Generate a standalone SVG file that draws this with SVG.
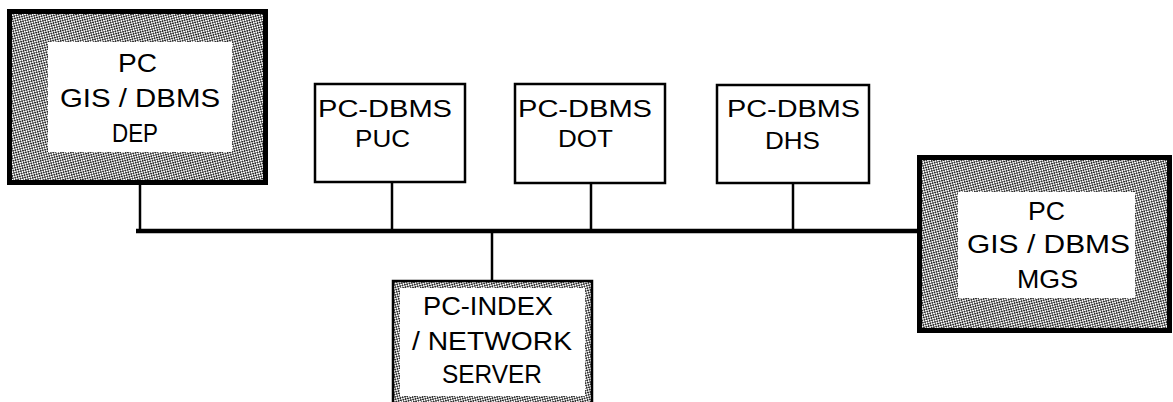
<svg xmlns="http://www.w3.org/2000/svg" width="1173" height="402" viewBox="0 0 1173 402">
<style>
text{font-family:"Liberation Sans",Arial,Helvetica,sans-serif;fill:#000;}
.t{font-size:25px;}
.s{font-size:24px;}
.box{fill:#fff;stroke:#000;stroke-width:2.5;}
.heavy{fill:url(#dither);stroke:#000;stroke-width:5;}
.srv{fill:url(#dither);stroke:#000;stroke-width:2.5;}
.inner{fill:#fff;stroke:none;}
.wire{stroke:#000;stroke-width:2.5;fill:none;}
.bus{stroke:#000;stroke-width:4.5;fill:none;}
</style>
<defs>
<pattern id="dither" width="3.4" height="3.4" patternUnits="userSpaceOnUse" patternTransform="rotate(30)">
<rect width="3.4" height="3.4" fill="#fff"/>
<circle cx="0" cy="0" r="0.95" fill="#000"/>
<circle cx="3.4" cy="0" r="0.95" fill="#000"/>
<circle cx="0" cy="3.4" r="0.95" fill="#000"/>
<circle cx="3.4" cy="3.4" r="0.95" fill="#000"/>
<circle cx="1.7" cy="1.7" r="0.95" fill="#000"/>
</pattern>
</defs>
<rect width="1173" height="402" fill="#fff"/>
<g id="connectors">
<line class="bus" x1="136" y1="231" x2="919" y2="231"/>
<line class="wire" x1="140" y1="185" x2="140" y2="231"/>
<line class="wire" x1="392" y1="182" x2="392" y2="231"/>
<line class="wire" x1="591" y1="183" x2="591" y2="231"/>
<line class="wire" x1="793" y1="183" x2="793" y2="231"/>
<line class="wire" x1="492" y1="231" x2="492" y2="281"/>
</g>
<g id="node-dep">
<rect class="heavy" x="9.5" y="11.5" width="256" height="171"/>
<rect class="inner" x="48" y="42" width="184" height="110"/>
<text class="t" x="118" y="72" textLength="39" lengthAdjust="spacingAndGlyphs">PC</text>
<text class="t" x="60" y="107" textLength="160" lengthAdjust="spacingAndGlyphs">GIS / DBMS</text>
<text class="t" x="112" y="142" textLength="46" lengthAdjust="spacingAndGlyphs">DEP</text>
</g>
<g id="node-puc">
<rect class="box" x="315" y="84" width="150" height="98"/>
<text class="s" x="318" y="117" textLength="134" lengthAdjust="spacingAndGlyphs">PC-DBMS</text>
<text class="s" x="355" y="147" textLength="55" lengthAdjust="spacingAndGlyphs">PUC</text>
</g>
<g id="node-dot">
<rect class="box" x="515" y="84" width="150" height="99"/>
<text class="s" x="518" y="117" textLength="134" lengthAdjust="spacingAndGlyphs">PC-DBMS</text>
<text class="s" x="558" y="147" textLength="55" lengthAdjust="spacingAndGlyphs">DOT</text>
</g>
<g id="node-dhs">
<rect class="box" x="717" y="85" width="152" height="98"/>
<text class="s" x="727" y="117" textLength="133" lengthAdjust="spacingAndGlyphs">PC-DBMS</text>
<text class="s" x="765" y="149" textLength="55" lengthAdjust="spacingAndGlyphs">DHS</text>
</g>
<g id="node-mgs">
<rect class="heavy" x="919.5" y="157.5" width="250" height="173"/>
<rect class="inner" x="958" y="192" width="177" height="106"/>
<text class="t" x="1028" y="220" textLength="37" lengthAdjust="spacingAndGlyphs">PC</text>
<text class="t" x="967" y="253" textLength="163" lengthAdjust="spacingAndGlyphs">GIS / DBMS</text>
<text class="t" x="1017" y="288" textLength="61" lengthAdjust="spacingAndGlyphs">MGS</text>
</g>
<g id="node-server">
<rect class="srv" x="393" y="281" width="199" height="130"/>
<rect class="inner" x="400" y="288" width="185" height="108"/>
<text class="t" x="423" y="315" textLength="130" lengthAdjust="spacingAndGlyphs">PC-INDEX</text>
<text class="t" x="412" y="350" textLength="160" lengthAdjust="spacingAndGlyphs">/ NETWORK</text>
<text class="t" x="442" y="383" textLength="100" lengthAdjust="spacingAndGlyphs">SERVER</text>
</g>
</svg>
